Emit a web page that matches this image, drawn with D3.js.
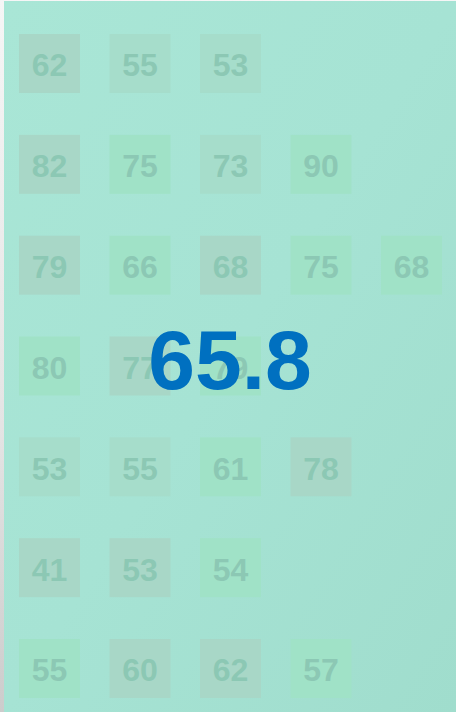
<!DOCTYPE html>
<html>
<head>
<meta charset="utf-8">
<script src="https://cdn.jsdelivr.net/npm/d3@7"></script>
<style>
  html, body { margin: 0; padding: 0; }
  body { width: 456px; height: 712px; overflow: hidden;
         background: linear-gradient(180deg, #f6f6f6 0%, #e4e4e4 60%, #cccccc 100%); }
  svg { display: block; }
</style>
</head>
<body>
<svg id="chart" width="456" height="712"></svg>
<script>
// Data: rows of values, each cell a value
const rowLabels = ["r0", "r1", "r2", "r3", "r4", "r5", "r6"];
const row0 = [62, 55, 53];
const row1 = [82, 75, 73, 90];
const row2 = [79, 66, 68, 75, 68];
const row3 = [80, 77, 79];
const row4 = [53, 55, 61, 78];
const row5 = [41, 53, 54];
const row6 = [55, 60, 62, 57];
const rows = [row0, row1, row2, row3, row4, row5, row6];
// tint category per cell (g = greyish, m = mid, t = green)
const tints = [
  ["g", "m", "m"],
  ["g", "t", "m", "t"],
  ["g", "t", "g", "t", "t"],
  ["t", "g", "t"],
  ["m", "m", "t", "g"],
  ["g", "g", "t"],
  ["t", "g", "g", "t"]
];
const colIndex = [0, 1, 2, 3, 4];

const cells = [];
rows.forEach((r, i) => r.forEach((v, j) => cells.push({row: i, col: j, value: v, tint: tints[i][j]})));
const mean = d3.mean(cells, d => d.value);

const svg = d3.select("#chart");
const defs = svg.append("defs");
const grad = defs.append("linearGradient").attr("id", "bg")
  .attr("x1", "0%").attr("y1", "0%").attr("x2", "100%").attr("y2", "100%");
grad.append("stop").attr("offset", "0%").attr("stop-color", "#a9e6d6");
grad.append("stop").attr("offset", "50%").attr("stop-color", "#a6e3d4");
grad.append("stop").attr("offset", "100%").attr("stop-color", "#a0ddcd");

svg.append("rect").attr("x", 4).attr("y", 1).attr("width", 452).attr("height", 711)
  .attr("fill", "url(#bg)");

const x = d3.scaleBand().domain(colIndex).range([19, 442]).paddingInner(0.326).paddingOuter(0);
const y = d3.scaleBand().domain(d3.range(rowLabels.length)).range([34, 698]).paddingInner(0.415).paddingOuter(0);

const fillScale = d3.scaleOrdinal().domain(["g", "m", "t"]).range(["#a8d7c7", "#a6ddcb", "#a0e2c7"]);

const g = svg.append("g");
const cell = g.selectAll("g.cell").data(cells).join("g").attr("class", "cell")
  .attr("transform", d => `translate(${x(d.col)},${y(d.row)})`);
cell.append("rect")
  .attr("width", x.bandwidth()).attr("height", y.bandwidth())
  .attr("fill", d => fillScale(d.tint));
cell.append("text")
  .attr("x", x.bandwidth() / 2).attr("y", y.bandwidth() / 2 + 13)
  .attr("text-anchor", "middle")
  .attr("font-family", "Liberation Sans, Arial, sans-serif")
  .attr("font-weight", "bold").attr("font-size", 32)
  .attr("fill", "#8cc8b4")
  .text(d => d.value);

svg.append("text")
  .attr("x", 230).attr("y", 389)
  .attr("text-anchor", "middle")
  .attr("font-family", "Liberation Sans, Arial, sans-serif")
  .attr("font-weight", "bold").attr("font-size", 84)
  .attr("fill", "#0070c0")
  .text(d3.format(".1f")(mean));
</script>
</body>
</html>
